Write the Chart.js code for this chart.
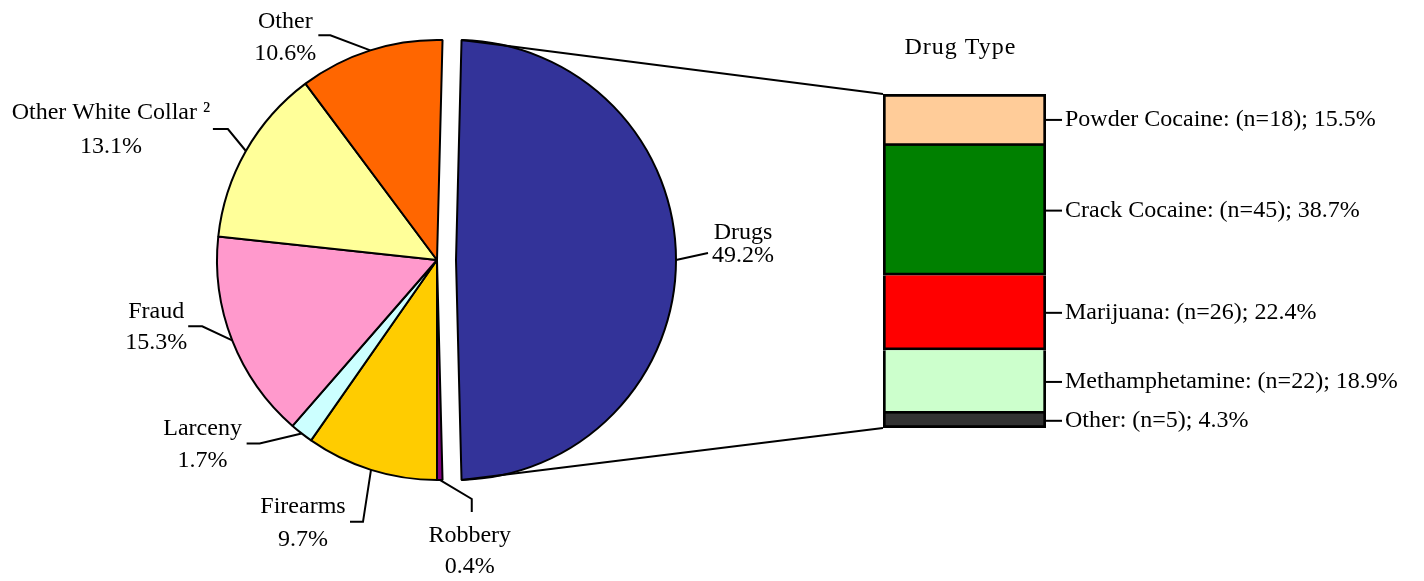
<!DOCTYPE html>
<html>
<head>
<meta charset="utf-8">
<title>Offense Type and Drug Type</title>
<script src="https://cdn.jsdelivr.net/npm/chart.js@4.4.0/dist/chart.umd.min.js"></script>
<style>
  html, body { margin: 0; padding: 0; background: #fff; }
  #wrap { position: relative; width: 1424px; height: 581px; }
  #wrap canvas { position: absolute; left: 0; top: 0; }
</style>
</head>
<body>
<div id="wrap">
  <canvas id="pieChart" width="1424" height="581"></canvas>
  <canvas id="barChart" width="1424" height="581"></canvas>
</div>
<script>
// Offense types (pie), clockwise starting with the exploded slice
const offenseLabels = ["Drugs", "Robbery", "Firearms", "Larceny", "Fraud", "Other White Collar \u00b2", "Other"];
const offensePercents = [49.2, 0.4, 9.7, 1.7, 15.3, 13.1, 10.6];
const offenseColors = ["#333399", "#800080", "#FFCC00", "#CCFFFF", "#FF99CC", "#FFFF99", "#FF6600"];

// Drug types (bar), top to bottom
const drugTypes = ["Powder Cocaine", "Crack Cocaine", "Marijuana", "Methamphetamine", "Other"];
const drugCounts = [18, 45, 26, 22, 5];
const drugPercents = [15.5, 38.7, 22.4, 18.9, 4.3];
const drugColors = ["#FFCC99", "#008000", "#FF0000", "#CCFFCC", "#333333"];

const FONT = "24px 'Liberation Serif', 'Times New Roman', serif";
const EXPLODE = 19;

// leader line legs (relative to previous point) and text placement [dx, baseline1, baseline2]
const pieLabelLayout = [
  { legs: [[32, -7]], text: [35, -14, 9] },
  { legs: [[32, 19], [0, 13]], text: [-2, 30, 61] },
  { legs: [[-8, 52], [-13, 0]], text: [-47, -9, 24] },
  { legs: [[-42, 10], [-13, 0]], text: [-44, -8, 24] },
  { legs: [[-30, -14], [-14, 0]], text: [-32, -8, 23] },
  { legs: [[-18, -22], [-15, 0]], text: [-102, -10, 24] },
  { legs: [[-40, -15], [-12, 0]], text: [-33, -7, 25] },
];

// Bar-of-pie: the split slice is centred on the right side
const firstRotation = 90 - (offensePercents[0] * 3.6) / 2;

const explodePlugin = {
  id: "explode",
  afterDatasetsUpdate(chart) {
    const arc = chart.getDatasetMeta(0).data[0];
    const mid = (arc.startAngle + arc.endAngle) / 2;
    arc.x += Math.cos(mid) * EXPLODE;
    arc.y += Math.sin(mid) * EXPLODE;
  },
};

const pieLabelsPlugin = {
  id: "pieLabels",
  afterDraw(chart) {
    const ctx = chart.ctx;
    const arcs = chart.getDatasetMeta(0).data;
    ctx.save();
    ctx.strokeStyle = "#000";
    ctx.lineWidth = 2;
    ctx.fillStyle = "#000";
    ctx.font = FONT;
    ctx.textAlign = "center";
    ctx.textBaseline = "alphabetic";
    arcs.forEach((arc, i) => {
      const layout = pieLabelLayout[i];
      const mid = (arc.startAngle + arc.endAngle) / 2;
      let px = arc.x + Math.cos(mid) * arc.outerRadius;
      let py = arc.y + Math.sin(mid) * arc.outerRadius;
      ctx.beginPath();
      ctx.moveTo(px, py);
      layout.legs.forEach(([dx, dy]) => {
        px += dx;
        py += dy;
        ctx.lineTo(px, py);
      });
      ctx.stroke();
      const [tx, b1, b2] = layout.text;
      ctx.fillText(offenseLabels[i], px + tx, py + b1);
      ctx.fillText(offensePercents[i].toFixed(1) + "%", px + tx, py + b2);
    });
    ctx.restore();
  },
};

const pieChart = new Chart(document.getElementById("pieChart"), {
  type: "pie",
  data: {
    labels: offenseLabels,
    datasets: [
      {
        data: offensePercents,
        backgroundColor: offenseColors,
        borderColor: "#000",
        borderWidth: 2,
        radius: 220,
      },
    ],
  },
  options: {
    responsive: false,
    animation: false,
    events: [],
    rotation: firstRotation,
    layout: { padding: { left: 0, right: 550, top: 0, bottom: 61 } },
    plugins: { legend: { display: false }, tooltip: { enabled: false } },
  },
  plugins: [explodePlugin, pieLabelsPlugin],
});

// stacked bar is built bottom-up, so reverse the drug order
const barOrder = drugTypes.map((_, i) => i).reverse();

const barLabelsPlugin = {
  id: "barLabels",
  afterDraw(chart) {
    const ctx = chart.ctx;
    ctx.save();
    ctx.strokeStyle = "#000";
    ctx.fillStyle = "#000";
    ctx.font = FONT;

    // connector lines from the exploded slice to the bar
    const arc = pieChart.getDatasetMeta(0).data[0];
    const r = arc.outerRadius;
    const topBar = chart.getDatasetMeta(barOrder.length - 1).data[0];
    const bottomBar = chart.getDatasetMeta(0).data[0];
    const barLeft = topBar.x - topBar.width / 2;
    const barRight = topBar.x + topBar.width / 2;
    ctx.lineWidth = 2;
    ctx.beginPath();
    ctx.moveTo(arc.x + Math.cos(arc.startAngle) * r, arc.y + Math.sin(arc.startAngle) * r);
    ctx.lineTo(barLeft, topBar.y);
    ctx.moveTo(arc.x + Math.cos(arc.endAngle) * r, arc.y + Math.sin(arc.endAngle) * r);
    ctx.lineTo(barLeft, bottomBar.base);
    ctx.stroke();

    // segment labels
    ctx.textAlign = "left";
    ctx.textBaseline = "middle";
    barOrder.forEach((drugIndex, dsIndex) => {
      const bar = chart.getDatasetMeta(dsIndex).data[0];
      const midY = (bar.y + bar.base) / 2;
      ctx.beginPath();
      ctx.moveTo(barRight, midY);
      ctx.lineTo(barRight + 16, midY);
      ctx.stroke();
      const text = `${drugTypes[drugIndex]}: (n=${drugCounts[drugIndex]}); ${drugPercents[drugIndex].toFixed(1)}%`;
      ctx.fillText(text, barRight + 19, midY);
    });

    // title
    ctx.textAlign = "center";
    ctx.textBaseline = "alphabetic";
    if ("letterSpacing" in ctx) ctx.letterSpacing = "1px";
    ctx.fillText("Drug Type", (barLeft + barRight) / 2 - 4, topBar.y - 40);
    ctx.restore();
  },
};

new Chart(document.getElementById("barChart"), {
  type: "bar",
  data: {
    labels: ["Drugs"],
    datasets: barOrder.map((i, k) => ({
      label: drugTypes[i],
      data: [drugCounts[i]],
      backgroundColor: drugColors[i],
      borderColor: "#000",
      borderWidth: { left: 3, right: 3, bottom: 3, top: k === barOrder.length - 1 ? 3 : 0 },
      borderSkipped: false,
      barPercentage: 1,
      categoryPercentage: 1,
    })),
  },
  options: {
    responsive: false,
    animation: false,
    events: [],
    layout: { padding: { left: 883, right: 378, top: 94, bottom: 153 } },
    scales: {
      x: { stacked: true, display: false },
      y: { stacked: true, display: false, min: 0, max: drugCounts.reduce((a, b) => a + b, 0) },
    },
    plugins: { legend: { display: false }, tooltip: { enabled: false } },
  },
  plugins: [barLabelsPlugin],
});
</script>
</body>
</html>
